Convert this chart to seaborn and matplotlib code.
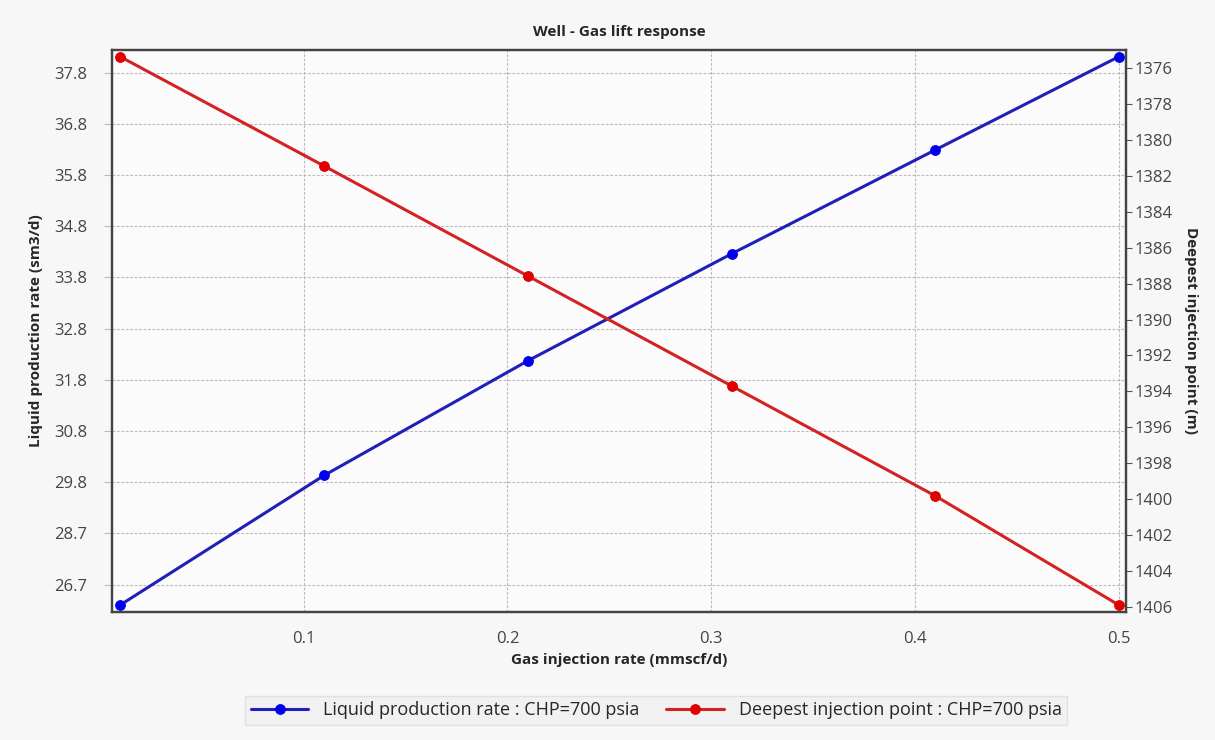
import pandas as pd
import seaborn as sns
import matplotlib.pyplot as plt

# Data
gas_rate = [0.01, 0.11, 0.21, 0.31, 0.41, 0.50]
liquid_rate = [27.40, 29.93, 32.17, 34.26, 36.29, 38.11]
injection_depth = [1375.35, 1381.44, 1387.57, 1393.70, 1399.83, 1405.91]

# left axis ticks (evenly spaced grid, labels as printed on the chart)
left_ticks = [27.8, 28.8, 29.8, 30.8, 31.8, 32.8, 33.8, 34.8, 35.8, 36.8, 37.8]
left_labels = ['26.7', '28.7', '29.8', '30.8', '31.8', '32.8', '33.8', '34.8', '35.8', '36.8', '37.8']
right_ticks = list(range(1376, 1407, 2))
x_ticks = [0.1, 0.2, 0.3, 0.4, 0.5]

df = pd.DataFrame({'Gas': gas_rate, 'Liquid': liquid_rate, 'Depth': injection_depth})

sns.set_style('white')
plt.rcParams['font.family'] = ['Open Sans', 'DejaVu Sans']

fig = plt.figure(figsize=(12.15, 7.4), dpi=100, facecolor='#f7f7f7')
ax = fig.add_axes([0.0922, 0.1734, 0.8345, 0.759])
ax.set_facecolor('#fbfbfb')
ax2 = ax.twinx()

# Liquid production rate on the left axis
sns.lineplot(data=df, x='Gas', y='Liquid', ax=ax, color='#2020b8', linewidth=2.2,
             marker='o', markersize=7, markerfacecolor='#0000ee', markeredgecolor='#0000ee',
             label='Liquid production rate : CHP=700 psia', legend=False)
# Deepest injection point on the right axis (depth increases downward)
sns.lineplot(data=df, x='Gas', y='Depth', ax=ax2, color='#d42222', linewidth=2.2,
             marker='o', markersize=7, markerfacecolor='#e00000', markeredgecolor='#e00000',
             label='Deepest injection point : CHP=700 psia', legend=False)

ax.set_xlim(0.006, 0.5035)
ax.set_ylim(27.27, 38.24)
ax2.set_ylim(1406.28, 1374.98)

ax.set_xticks(x_ticks)
ax.set_xticklabels([f'{t:.1f}' for t in x_ticks])
ax.set_yticks(left_ticks)
ax.set_yticklabels(left_labels)
ax2.set_yticks(right_ticks)

ax.grid(True, color='#bbbbbb', linestyle=(0, (2.5, 1.5)), linewidth=0.8)
ax2.grid(False)

ax.tick_params(axis='x', labelsize=12, labelcolor='#444444', length=6, color='#bbbbbb', width=0.8, pad=8)
ax.tick_params(axis='y', labelsize=12, labelcolor='#444444', length=6, color='#bbbbbb', width=0.8, pad=12)
ax2.tick_params(axis='y', labelsize=12, labelcolor='#444444', length=4, color='#555555', width=0.8, pad=2)

for spine in ax.spines.values():
    spine.set_color('#444444')
    spine.set_linewidth(1.6)
for spine in ax2.spines.values():
    spine.set_color('#444444')
    spine.set_linewidth(1.6)

ax.set_title('Well - Gas lift response', fontsize=11, fontweight='bold', pad=10)
ax.set_xlabel('Gas injection rate (mmscf/d)', fontsize=11, fontweight='bold', labelpad=4)
ax.set_ylabel('Liquid production rate (sm3/d)', fontsize=11, fontweight='bold', labelpad=8)
ax2.set_ylabel('Deepest injection point (m)', fontsize=11, fontweight='bold', rotation=270, labelpad=18)

# Shared legend below the plot
h1, l1 = ax.get_legend_handles_labels()
h2, l2 = ax2.get_legend_handles_labels()
leg = fig.legend(h1 + h2, l1 + l2, loc='center', bbox_to_anchor=(0.54, 0.04), ncol=2,
                 fontsize=13, frameon=True, fancybox=False, handlelength=3.2, columnspacing=1.5,
                 borderpad=0.3)
leg.get_frame().set_facecolor('#f0f0f0')
leg.get_frame().set_edgecolor('#dddddd')

fig.savefig('out.png', dpi=100, facecolor=fig.get_facecolor())
